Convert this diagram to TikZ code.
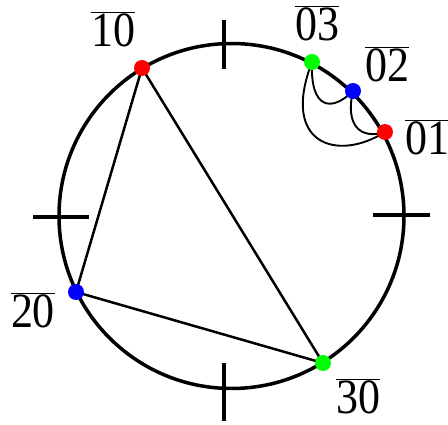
\documentclass[tikz,border=0pt]{standalone}
\usepackage{fontspec}
\setmainfont{Liberation Serif}
\newcommand{\barlab}[1]{\scalebox{1}[1.12]{$\overline{\mbox{#1}}$}}
\begin{document}
\begin{tikzpicture}[x=1pt,y=-1pt,
  dot/.style={circle,inner sep=0pt,minimum size=16pt},
  chord/.style={line width=2.5pt},
  arcline/.style={line width=1.9pt},
  tick/.style={line width=3.4pt},
  lab/.style={inner sep=0pt,font=\fontsize{44}{44}\selectfont}]
\useasboundingbox (0,0) rectangle (448,425);
\coordinate (c) at (231.5,216);
\draw[line width=3.5pt] (c) circle[radius=172.5pt];
% ticks
\coordinate (t1a) at (224,20);  \coordinate (t1b) at (224,69);
\coordinate (t2a) at (224,363); \coordinate (t2b) at (224,421);
\coordinate (t3a) at (33,217);  \coordinate (t3b) at (89,217);
\coordinate (t4a) at (373,215); \coordinate (t4b) at (430,215);
\draw[tick] (t1a) -- (t1b);
\draw[tick] (t2a) -- (t2b);
\draw[tick] (t3a) -- (t3b);
\draw[tick] (t4a) -- (t4b);
% points
\node[dot] (p10) at (142,68) {};
\node[dot] (p20) at (76,292) {};
\node[dot] (p30) at (323,363) {};
\node[dot] (p03) at (312,62) {};
\node[dot] (p02) at (353,91) {};
\node[dot] (p01) at (385,132) {};
% chords
\draw[chord] (p10.center) -- (p20.center) -- (p30.center) -- (p10.center);
% small arcs
\draw[arcline] (p03.center) .. controls (310,110) and (332,112) .. (p02.center);
\draw[arcline] (p02.center) .. controls (345,125) and (360,140) .. (p01.center);
\draw[arcline] (p03.center) .. controls (280,145) and (338,162) .. (p01.center);
% dots on top
\fill[red]   (p10) circle[radius=8pt];
\fill[blue]  (p20) circle[radius=8pt];
\fill[green] (p30) circle[radius=8pt];
\fill[green] (p03) circle[radius=8pt];
\fill[blue]  (p02) circle[radius=8pt];
\fill[red]   (p01) circle[radius=8pt];
% labels
\node[lab] (l10) at (113,29) {\barlab{10}};
\node[lab] (l03) at (317,23) {\barlab{03}};
\node[lab] (l02) at (387,64) {\barlab{02}};
\node[lab] (l01) at (427,137.5) {\barlab{01}};
\node[lab] (l20) at (33,310.5) {\barlab{20}};
\node[lab] (l30) at (358,396.5) {\barlab{30}};
\end{tikzpicture}
\end{document}
